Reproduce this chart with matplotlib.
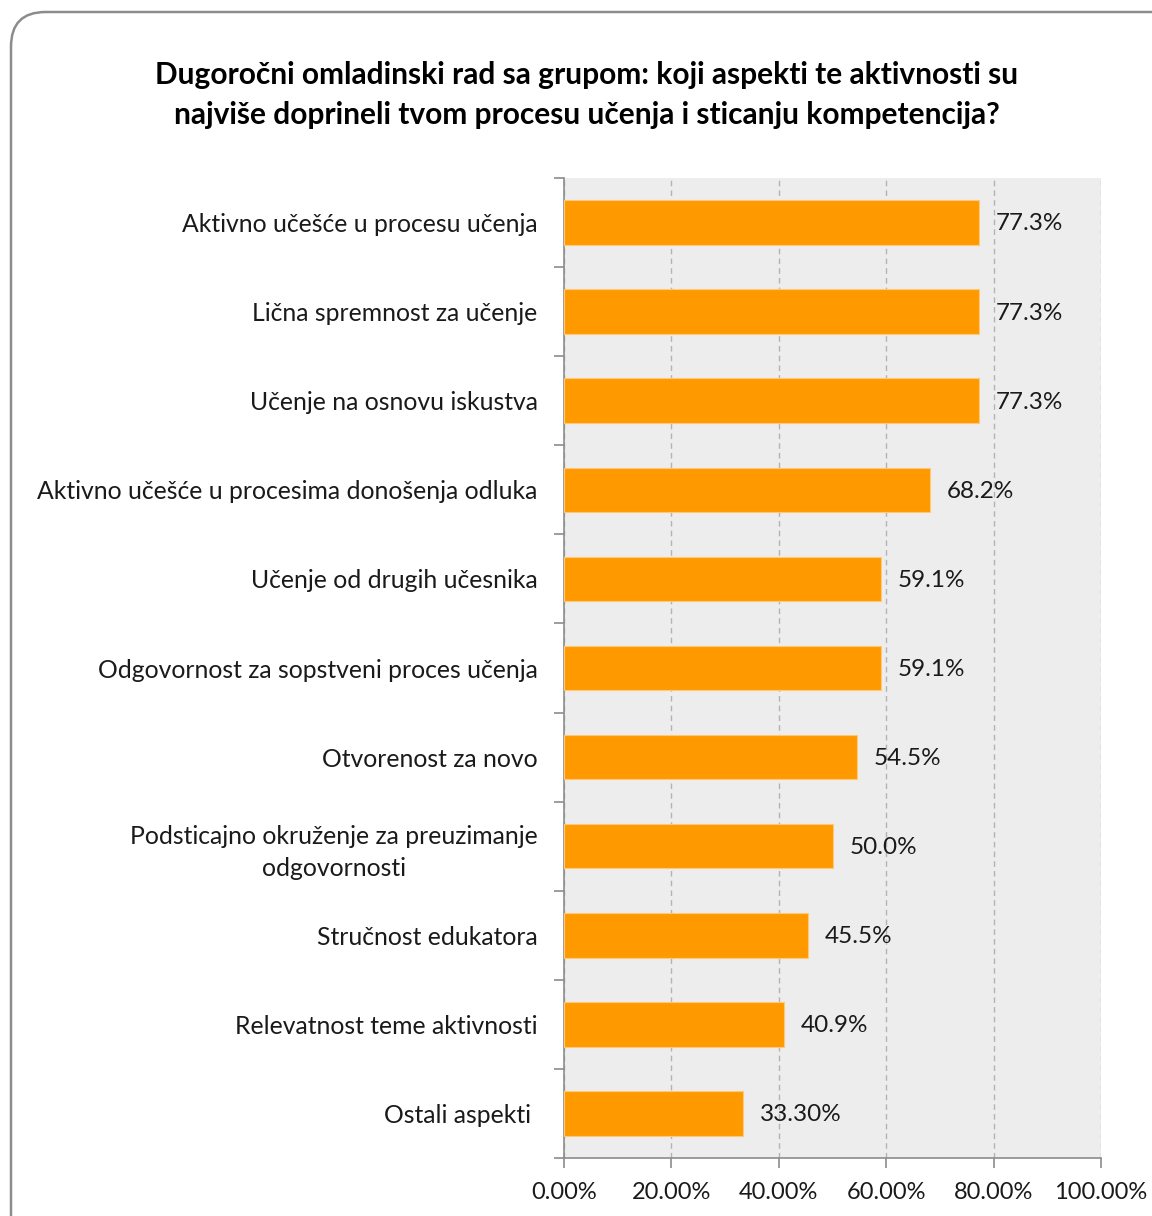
import matplotlib.pyplot as plt
from matplotlib.patches import FancyBboxPatch
from matplotlib.ticker import FixedLocator

plt.rcParams['font.family'] = ['Lato', 'DejaVu Sans']

title = ("Dugoročni omladinski rad sa grupom: koji aspekti te aktivnosti su\n"
         "najviše doprineli tvom procesu učenja i sticanju kompetencija?")

categories = [
    "Aktivno učešće u procesu učenja",
    "Lična spremnost za učenje",
    "Učenje na osnovu iskustva",
    "Aktivno učešće u procesima donošenja odluka",
    "Učenje od drugih učesnika",
    "Odgovornost za sopstveni proces učenja",
    "Otvorenost za novo",
    "Podsticajno okruženje za preuzimanje\nodgovornosti",
    "Stručnost edukatora",
    "Relevatnost teme aktivnosti",
    "Ostali aspekti ",
]
values = [77.3, 77.3, 77.3, 68.2, 59.1, 59.1, 54.5, 50.0, 45.5, 40.9, 33.3]
value_labels = ["77.3%", "77.3%", "77.3%", "68.2%", "59.1%", "59.1%",
                "54.5%", "50.0%", "45.5%", "40.9%", "33.30%"]
x_ticks = [0, 20, 40, 60, 80, 100]
x_tick_labels = ["0.00%", "20.00%", "40.00%", "60.00%", "80.00%", "100.00%"]

W, H = 1152, 1216
fig = plt.figure(figsize=(W / 100, H / 100), dpi=100)
fig.patch.set_facecolor("white")

# rounded chart frame
frame = FancyBboxPatch((11 / W, -0.05), 1.2, (H - 12) / H + 0.05,
                       boxstyle="round,pad=0,rounding_size=0.03",
                       transform=fig.transFigure, facecolor="none",
                       edgecolor="#8c8c8c", linewidth=1.8, zorder=0,
                       mutation_aspect=W / H)
fig.patches.append(frame)

fig.text(587 / W, 1 - 95 / H, title, ha="center", va="center",
         fontsize=21.5, fontweight="bold", color="#000000", linespacing=1.5)

ax = fig.add_axes([564 / W, 1 - 1158 / H, (1101 - 564) / W, (1158 - 178) / H])
ax.set_facecolor("#ededed")

n = len(categories)
ypos = list(range(n))
ax.barh(ypos, values, height=0.5, color="#ff9900", edgecolor="#ffc97a",
        linewidth=0.8, zorder=3)

for y, v, lab in zip(ypos, values, value_labels):
    ax.annotate(lab, (v, y), xytext=(12, -1), textcoords="offset points",
                ha="left", va="center", fontsize=17.5, color="#1a1a1a")

ax.set_xlim(0, 100)
ax.set_ylim(n - 0.5, -0.5)
ax.set_xticks(x_ticks)
ax.set_xticklabels(x_tick_labels, fontsize=17, color="#1a1a1a")
ax.set_yticks(ypos)
ax.set_yticklabels(categories, fontsize=17.8, color="#1a1a1a",
                   multialignment="center", linespacing=1.45)
ax.yaxis.set_minor_locator(FixedLocator([i - 0.5 for i in range(n + 1)]))
ax.tick_params(axis="y", which="major", length=0, pad=19)
ax.tick_params(axis="y", which="minor", length=7, color="#8c8c8c", width=1.2)
ax.tick_params(axis="x", length=7, color="#8c8c8c", width=1.2, pad=10)

ax.grid(axis="x", color="#b3b3b3", linestyle=(0, (4, 3)), linewidth=1, zorder=1)
ax.set_axisbelow(True)
for s in ("top", "right"):
    ax.spines[s].set_visible(False)
for s in ("left", "bottom"):
    ax.spines[s].set_color("#8c8c8c")
    ax.spines[s].set_linewidth(1.2)

fig.savefig("out.png", dpi=100)
